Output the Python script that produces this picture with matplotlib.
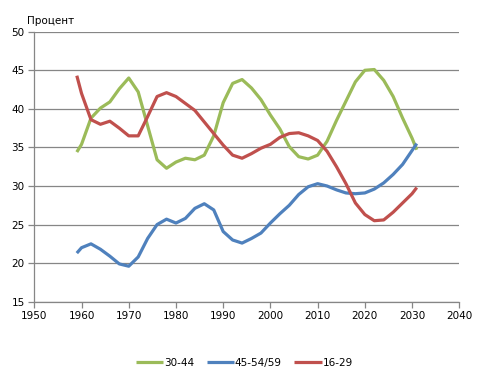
import matplotlib
matplotlib.use("Agg")
import matplotlib.pyplot as plt

years = [1959, 1960, 1962, 1964, 1966, 1968, 1970, 1972, 1974, 1976, 1978, 1980,
         1982, 1984, 1986, 1988, 1990, 1992, 1994, 1996, 1998, 2000, 2002, 2004,
         2006, 2008, 2010, 2012, 2014, 2016, 2018, 2020, 2022, 2024, 2026, 2028,
         2030, 2031]

age_30_44 = [34.4, 35.4, 38.8, 40.1, 40.9, 42.6, 44.0, 42.2, 37.8, 33.4, 32.3, 33.1,
             33.6, 33.4, 34.0, 36.5, 40.8, 43.3, 43.8, 42.7, 41.2, 39.2, 37.4, 35.1,
             33.8, 33.5, 34.0, 35.8, 38.5, 41.0, 43.5, 45.0, 45.1, 43.7, 41.6, 38.8,
             36.2, 34.7]

age_45_59 = [21.3, 22.0, 22.5, 21.8, 20.9, 19.9, 19.6, 20.8, 23.2, 25.0, 25.7, 25.2,
             25.8, 27.1, 27.7, 26.9, 24.1, 23.0, 22.6, 23.2, 23.9, 25.2, 26.4, 27.5,
             28.9, 29.9, 30.3, 30.0, 29.5, 29.1, 29.0, 29.1, 29.6, 30.4, 31.5, 32.8,
             34.6, 35.5]

age_16_29 = [44.3, 42.0, 38.6, 38.0, 38.4, 37.5, 36.5, 36.5, 39.0, 41.6, 42.1, 41.6,
             40.7, 39.8, 38.3, 36.8, 35.3, 34.0, 33.6, 34.2, 34.9, 35.4, 36.3, 36.8,
             36.9, 36.5, 35.9, 34.5, 32.5, 30.3, 27.8, 26.3, 25.5, 25.6, 26.6, 27.8,
             29.0, 29.8]

labels = ["30-44", "45-54/59", "16-29"]
colors = ["#9BBB59", "#4F81BD", "#C0504D"]
x_ticks = [1950, 1960, 1970, 1980, 1990, 2000, 2010, 2020, 2030, 2040]
y_ticks = [15, 20, 25, 30, 35, 40, 45, 50]

fig = plt.figure(figsize=(4.84, 3.84), dpi=100)
ax = fig.add_axes([0.0709, 0.2143, 0.878, 0.7031])

for vals, lab, col in zip([age_30_44, age_45_59, age_16_29], labels, colors):
    ax.plot(years, vals, color=col, lw=2.3, label=lab, solid_joinstyle="round",
            solid_capstyle="butt")

ax.set_xlim(1950, 2040)
ax.set_ylim(15, 50)
ax.set_xticks(x_ticks)
ax.set_yticks(y_ticks)
ax.grid(axis="y", color="#868686", lw=0.9)
ax.set_axisbelow(True)
for s in ["top", "right"]:
    ax.spines[s].set_visible(False)
for s in ["left", "bottom"]:
    ax.spines[s].set_color("#868686")
    ax.spines[s].set_linewidth(0.9)
ax.tick_params(axis="both", colors="#868686", length=4, width=0.9, labelsize=7.5,
               labelcolor="black", pad=3)

fig.text(0.056, 0.945, "Процент", fontsize=7.5, ha="left", va="center")

leg = fig.legend(loc="center", bbox_to_anchor=(0.505, 0.055), ncol=3, frameon=False,
                 fontsize=7.5, handlelength=2.6, handletextpad=0.1, columnspacing=1.2)

fig.savefig("out.png", dpi=100)
